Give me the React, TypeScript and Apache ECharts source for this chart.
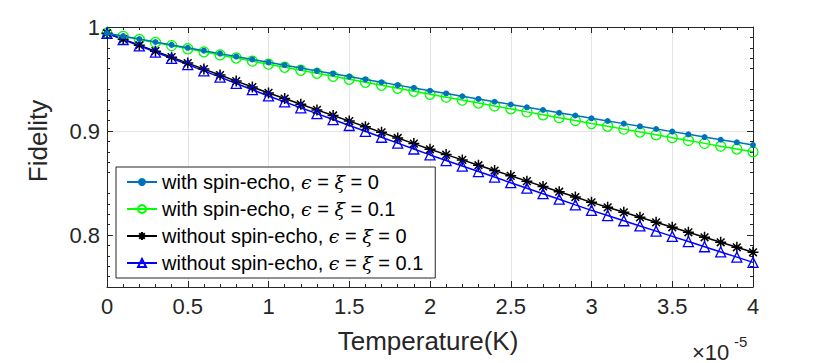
import React, { useEffect, useRef } from "react";
import * as echarts from "echarts";

// Temperature in units of 1e-5 K
const temperatures = [
  0, 0.1, 0.2, 0.3, 0.4, 0.5, 0.6, 0.7, 0.8, 0.9,
  1.0, 1.1, 1.2, 1.3, 1.4, 1.5, 1.6, 1.7, 1.8, 1.9,
  2.0, 2.1, 2.2, 2.3, 2.4, 2.5, 2.6, 2.7, 2.8, 2.9,
  3.0, 3.1, 3.2, 3.3, 3.4, 3.5, 3.6, 3.7, 3.8, 3.9, 4.0,
];

const withEcho0 = [
  0.9940, 0.9912, 0.9884, 0.9856, 0.9828, 0.9800, 0.9772, 0.9744, 0.9716, 0.9688,
  0.9660, 0.9633, 0.9605, 0.9578, 0.9551, 0.9523, 0.9496, 0.9469, 0.9441, 0.9414,
  0.9387, 0.9361, 0.9334, 0.9308, 0.9281, 0.9255, 0.9228, 0.9202, 0.9175, 0.9149,
  0.9122, 0.9096, 0.9071, 0.9045, 0.9019, 0.8994, 0.8968, 0.8942, 0.8916, 0.8891, 0.8865,
];

const withEcho01 = [
  0.9940, 0.9910, 0.9880, 0.9851, 0.9821, 0.9791, 0.9761, 0.9731, 0.9702, 0.9672,
  0.9642, 0.9613, 0.9584, 0.9555, 0.9526, 0.9497, 0.9468, 0.9439, 0.9411, 0.9382,
  0.9353, 0.9325, 0.9297, 0.9269, 0.9241, 0.9213, 0.9184, 0.9156, 0.9128, 0.9100,
  0.9072, 0.9045, 0.9018, 0.8990, 0.8963, 0.8936, 0.8909, 0.8881, 0.8854, 0.8827, 0.8800,
];

const withoutEcho0 = [
  0.9940, 0.9883, 0.9825, 0.9768, 0.9710, 0.9653, 0.9595, 0.9538, 0.9480, 0.9423,
  0.9366, 0.9312, 0.9257, 0.9203, 0.9149, 0.9095, 0.9041, 0.8987, 0.8933, 0.8879,
  0.8824, 0.8773, 0.8722, 0.8671, 0.8620, 0.8569, 0.8518, 0.8467, 0.8416, 0.8365,
  0.8314, 0.8266, 0.8218, 0.8170, 0.8122, 0.8074, 0.8026, 0.7978, 0.7930, 0.7882, 0.7834,
];

const withoutEcho01 = [
  0.9940, 0.9880, 0.9819, 0.9759, 0.9699, 0.9638, 0.9578, 0.9518, 0.9457, 0.9397,
  0.9337, 0.9280, 0.9223, 0.9167, 0.9110, 0.9053, 0.8997, 0.8940, 0.8883, 0.8827,
  0.8770, 0.8716, 0.8663, 0.8610, 0.8557, 0.8503, 0.8450, 0.8397, 0.8344, 0.8290,
  0.8237, 0.8187, 0.8137, 0.8087, 0.8037, 0.7987, 0.7937, 0.7887, 0.7837, 0.7787, 0.7737,
];

const seriesNames = [
  "with spin-echo, ϵ = ξ = 0",
  "with spin-echo, ϵ = ξ = 0.1",
  "without spin-echo, ϵ = ξ = 0",
  "without spin-echo, ϵ = ξ = 0.1",
];

const yTickValues = [0.8, 0.9, 1.0];

const xLabel = "Temperature(K)";
const yLabel = "Fidelity";
const xScaleBase = "×10";
const xScaleExp = "-5";

const SANS = '"Liberation Sans", Arial, Helvetica, sans-serif';
const AXIS_COLOR = "#262626";
const GRID_COLOR = "#e4e4e4";

const toPairs = (ys: number[]) => ys.map((y, i) => [temperatures[i], y]);

export default function App() {
  const ref = useRef<HTMLDivElement>(null);

  useEffect(() => {
    if (!ref.current) return;
    const chart = echarts.init(ref.current, undefined, { renderer: "svg" });

    const axisLine = { show: true, onZero: false, lineStyle: { color: AXIS_COLOR, width: 1 } };
    const axisTickBase = { show: true, inside: true, length: 6, lineStyle: { color: AXIS_COLOR, width: 1 } };
    const minorTick = { show: true, splitNumber: 5, length: 3, lineStyle: { color: AXIS_COLOR, width: 1 } };

    const xCommon = {
      type: "value" as const,
      min: 0,
      max: 4,
      interval: 0.5,
      axisLine,
      axisTick: axisTickBase,
      minorTick,
    };
    const yCommon = {
      type: "value" as const,
      min: 0.75,
      max: 1,
      interval: 0.05,
      axisLine,
      axisTick: { ...axisTickBase, customValues: yTickValues },
      minorTick,
    };

    const option: any = {
      animation: false,
      textStyle: { fontFamily: SANS },
      grid: { left: 107, right: 77, top: 27, bottom: 76 },
      xAxis: [
        {
          ...xCommon,
          position: "bottom",
          axisLabel: { color: AXIS_COLOR, fontSize: 22, margin: 8, fontFamily: SANS },
          splitLine: { show: true, lineStyle: { color: GRID_COLOR, width: 1 } },
        },
        {
          ...xCommon,
          position: "top",
          axisLabel: { show: false },
          splitLine: { show: false },
        },
      ],
      yAxis: [
        {
          ...yCommon,
          position: "left",
          axisLabel: {
            color: AXIS_COLOR,
            fontSize: 22,
            margin: 7,
            fontFamily: SANS,
            customValues: yTickValues,
          },
          splitLine: {
            show: true,
            lineStyle: { color: ["rgba(0,0,0,0)", GRID_COLOR], width: 1 },
          },
        },
        {
          ...yCommon,
          position: "right",
          axisLabel: { show: false },
          splitLine: { show: false },
        },
      ],
      legend: {
        orient: "vertical",
        left: 116,
        top: 167,
        padding: [5, 12, 5, 10],
        itemGap: 7,
        itemWidth: 30,
        itemHeight: 10,
        backgroundColor: "#ffffff",
        borderColor: AXIS_COLOR,
        borderWidth: 1,
        data: seriesNames,
        formatter: (name: string) =>
          name.replace(/ϵ/g, "{g|ϵ}").replace(/ξ/g, "{g|ξ}"),
        textStyle: {
          fontSize: 20,
          color: "#000000",
          fontFamily: SANS,
          lineHeight: 20,
          rich: {
            g: {
              fontFamily: '"DejaVu Serif", "Liberation Serif", serif',
              fontStyle: "italic",
              fontSize: 19,
              lineHeight: 20,
              color: "#000000",
            },
          },
        },
      },
      series: [
        {
          name: seriesNames[0],
          type: "line",
          data: toPairs(withEcho0),
          symbol: "circle",
          symbolSize: 6,
          lineStyle: { color: "#0072BD", width: 1.5 },
          itemStyle: { color: "#0072BD" },
          z: 3,
        },
        {
          name: seriesNames[1],
          type: "line",
          data: toPairs(withEcho01),
          symbol: "circle",
          symbolSize: 10,
          lineStyle: { color: "#00ff00", width: 1.5 },
          itemStyle: { color: "rgba(255,255,255,0)", borderColor: "#00ff00", borderWidth: 1.3 },
          z: 2,
        },
        {
          name: seriesNames[2],
          type: "line",
          data: toPairs(withoutEcho0),
          symbol: "path://M5 0 L5 10 M0 5 L10 5 M1.5 1.5 L8.5 8.5 M1.5 8.5 L8.5 1.5",
          symbolSize: 11,
          lineStyle: { color: "#000000", width: 1.5 },
          itemStyle: { color: "#000000", borderColor: "#000000", borderWidth: 1.5 },
          z: 2,
        },
        {
          name: seriesNames[3],
          type: "line",
          data: toPairs(withoutEcho01),
          symbol: "triangle",
          symbolSize: 10,
          lineStyle: { color: "#0000ff", width: 1.5 },
          itemStyle: { color: "rgba(255,255,255,0)", borderColor: "#0000ff", borderWidth: 1.3 },
          z: 2,
        },
      ],
      graphic: [
        {
          type: "text",
          x: 428,
          y: 341,
          style: {
            text: xLabel,
            fontSize: 26,
            fontFamily: SANS,
            fill: AXIS_COLOR,
            align: "center",
            verticalAlign: "middle",
          },
        },
        {
          type: "text",
          x: 38,
          y: 141,
          rotation: Math.PI / 2,
          style: {
            text: yLabel,
            fontSize: 26,
            fontFamily: SANS,
            fill: AXIS_COLOR,
            align: "center",
            verticalAlign: "middle",
          },
        },
        {
          type: "text",
          x: 692,
          y: 352,
          style: {
            text: xScaleBase,
            fontSize: 22,
            fontFamily: SANS,
            fill: AXIS_COLOR,
            align: "left",
            verticalAlign: "middle",
          },
        },
        {
          type: "text",
          x: 734,
          y: 341,
          style: {
            text: xScaleExp,
            fontSize: 15,
            fontFamily: SANS,
            fill: AXIS_COLOR,
            align: "left",
            verticalAlign: "middle",
          },
        },
      ],
    };

    chart.setOption(option);
    return () => chart.dispose();
  }, []);

  return (
    <div
      ref={ref}
      style={{ position: "fixed", left: 0, top: 0, width: 830, height: 363, background: "#ffffff" }}
    />
  );
}
